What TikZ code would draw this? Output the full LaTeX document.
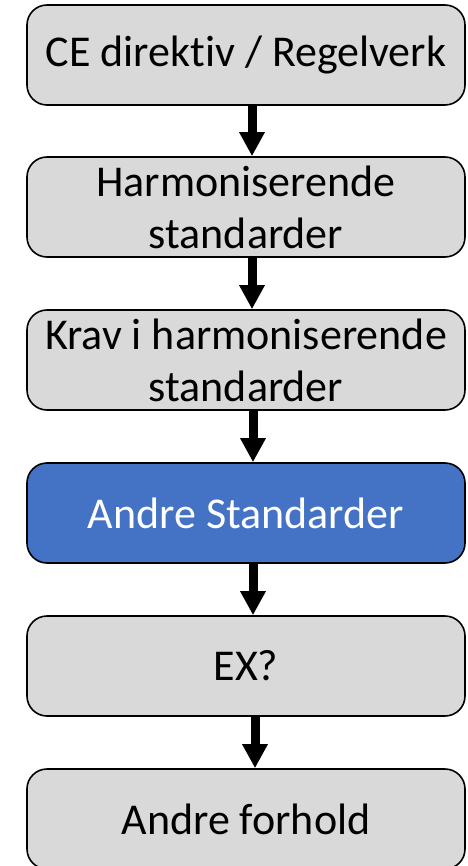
\documentclass[tikz,border=0pt]{standalone}
\usepackage{fontspec}
\setmainfont{Carlito}[Ligatures=NoCommon]
\usetikzlibrary{positioning,arrows.meta}

\begin{document}
\begin{tikzpicture}[
  x=1pt, y=1pt,
  font=\fontsize{44}{52}\selectfont,
  stepbox/.style={draw=black, line width=1.6pt, rounded corners=20pt, fill=black!15,
    minimum width=438pt, minimum height=100pt, inner sep=0pt, align=center},
  keybox/.style={stepbox, fill={rgb,255:red,68;green,114;blue,196}, text=white},
  flow/.style={-{Triangle[width=24pt,length=24pt]}, line width=9pt, black}
]
\useasboundingbox (0,0) rectangle (467,-866);
% ---------- chain of boxes ----------
\node[stepbox] (ce) at (246,-55) {CE direktiv / Regelverk};
\node[stepbox, below=50.4pt of ce] (harm) {Harmoniserende\\standarder};
\node[stepbox, below=51.4pt of harm] (krav) {Krav i harmoniserende\\standarder};
\node[keybox, below=51.4pt of krav] (andre) {Andre Standarder};
\node[stepbox, below=51.4pt of andre] (ex) {EX?};
\node[stepbox, below=51.4pt of ex] (forhold) {Andre forhold};
% ---------- arrows ----------
\draw[flow] ([xshift=6pt]ce.south) -- ([xshift=6pt]harm.north);
\draw[flow] ([xshift=6pt]harm.south) -- ([xshift=6pt]krav.north);
\draw[flow] ([xshift=7pt]krav.south) -- ([xshift=7pt]andre.north);
\draw[flow] ([xshift=7pt]andre.south) -- ([xshift=7pt]ex.north);
\draw[flow] ([xshift=9pt]ex.south) -- ([xshift=9pt]forhold.north);
\end{tikzpicture}
\end{document}
